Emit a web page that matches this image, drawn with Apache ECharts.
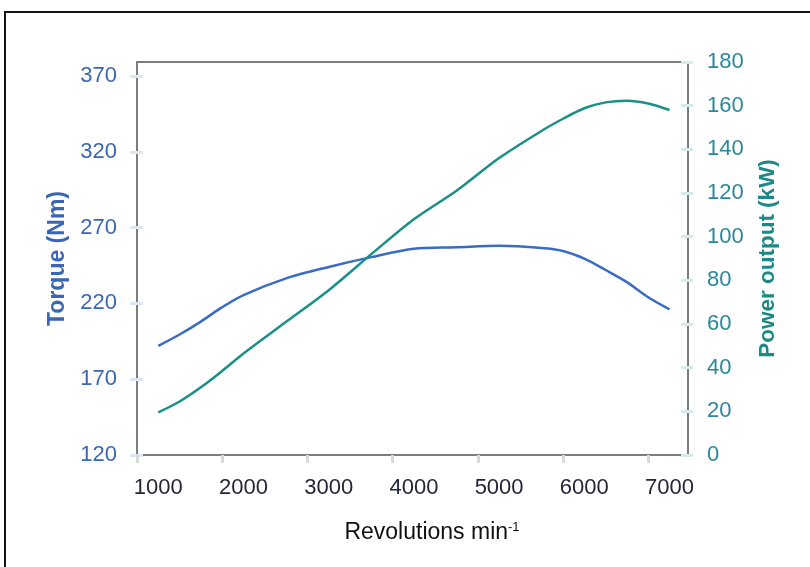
<!DOCTYPE html>
<html><head><meta charset="utf-8">
<script src="https://cdn.jsdelivr.net/npm/echarts@6/dist/echarts.min.js"></script>
<style>html,body{margin:0;padding:0;background:#fff}#c{width:810px;height:567px}</style>
</head><body><div id="c"></div>
<script>
const rpm    = [1000, 1250, 1500, 1750, 2000, 2500, 3000, 3500, 4000, 4500, 5000, 5500, 5750, 6000, 6250, 6500, 6750, 7000];
const torque = [192, 199.5, 208, 217.5, 225.5, 236.5, 244, 250.5, 256, 257, 258, 256.5, 254.5, 249.5, 242, 234, 224, 216];
const power  = [19.5, 24.5, 31, 38.5, 46.5, 61, 75.5, 92, 108, 121, 136, 148.5, 154, 158.8, 161.5, 162.3, 161, 158];
const xTickLabels = [1000, 2000, 3000, 4000, 5000, 6000, 7000];
const xTickMarks  = [750, 1750, 2750, 3750, 4750, 5750, 6750];
const torqueTicks = [120, 170, 220, 270, 320, 370];
const powerTicks  = [0, 20, 40, 60, 80, 100, 120, 140, 160, 180];

const FONT = "'Liberation Sans', Arial, sans-serif";
const plain = v => String(v);
const chart = echarts.init(document.getElementById('c'), null, {renderer: 'canvas'});
chart.setOption({
  animation: false,
  backgroundColor: '#ffffff',
  graphic: [{
    type: 'rect', z: -10,
    shape: {x: 5, y: 12, width: 900, height: 700},
    style: {fill: 'none', stroke: '#111111', lineWidth: 2}
  }],
  grid: {left: 137, right: 122, top: 62, bottom: 112, show: true, borderColor: '#7d7d7d', borderWidth: 2},
  xAxis: {
    type: 'value', min: 750, max: 7217,
    axisLine: {show: false}, splitLine: {show: false},
    axisTick: {show: true, customValues: xTickMarks, length: 8, lineStyle: {color: '#d9d9d9', width: 3}},
    axisLabel: {customValues: xTickLabels, formatter: plain, margin: 22, fontSize: 22, fontFamily: FONT, color: '#26263a'},
    name: '{a|Revolutions min}{s|-1}',
    nameLocation: 'middle', nameGap: 66,
    nameTextStyle: {
      padding: [0, 0, 0, 39],
      rich: {
        a: {fontSize: 23, fontFamily: FONT, color: '#111111'},
        s: {fontSize: 13, fontFamily: FONT, color: '#111111', verticalAlign: 'top'}
      }
    }
  },
  yAxis: [{
    type: 'value', position: 'left', offset: -6, min: 120, max: 379.2,
    axisLine: {show: false}, splitLine: {show: false},
    axisTick: {show: true, customValues: torqueTicks, length: 13, lineStyle: {color: '#dce7f3', width: 3}},
    axisLabel: {customValues: torqueTicks, formatter: plain, margin: 26, fontSize: 22, fontFamily: FONT, color: '#3b66b6'},
    name: 'Torque (Nm)', nameLocation: 'middle', nameGap: 74, nameRotate: 90,
    nameTextStyle: {fontSize: 23, fontWeight: 'bold', fontFamily: FONT, color: '#3a67b5'}
  }, {
    type: 'value', position: 'right', offset: -7, min: 0, max: 180,
    axisLine: {show: false}, splitLine: {show: false},
    axisTick: {show: true, customValues: powerTicks, length: 12, lineStyle: {color: '#d6ecec', width: 3}},
    axisLabel: {customValues: powerTicks, formatter: plain, margin: 26, fontSize: 22, fontFamily: FONT, color: '#2a879c'},
    name: 'Power output (kW)', nameLocation: 'middle', nameGap: 75, nameRotate: 90,
    nameTextStyle: {fontSize: 22.5, fontWeight: 'bold', fontFamily: FONT, color: '#1b8a86'}
  }],
  series: [{
    type: 'line', name: 'Torque', yAxisIndex: 0, showSymbol: false, smooth: 0.3,
    lineStyle: {color: '#3a6cc4', width: 2.5},
    data: rpm.map((r, i) => [r, torque[i]])
  }, {
    type: 'line', name: 'Power', yAxisIndex: 1, showSymbol: false, smooth: 0.3,
    lineStyle: {color: '#1a8f88', width: 2.5},
    data: rpm.map((r, i) => [r, power[i]])
  }]
});
</script>
</body></html>
